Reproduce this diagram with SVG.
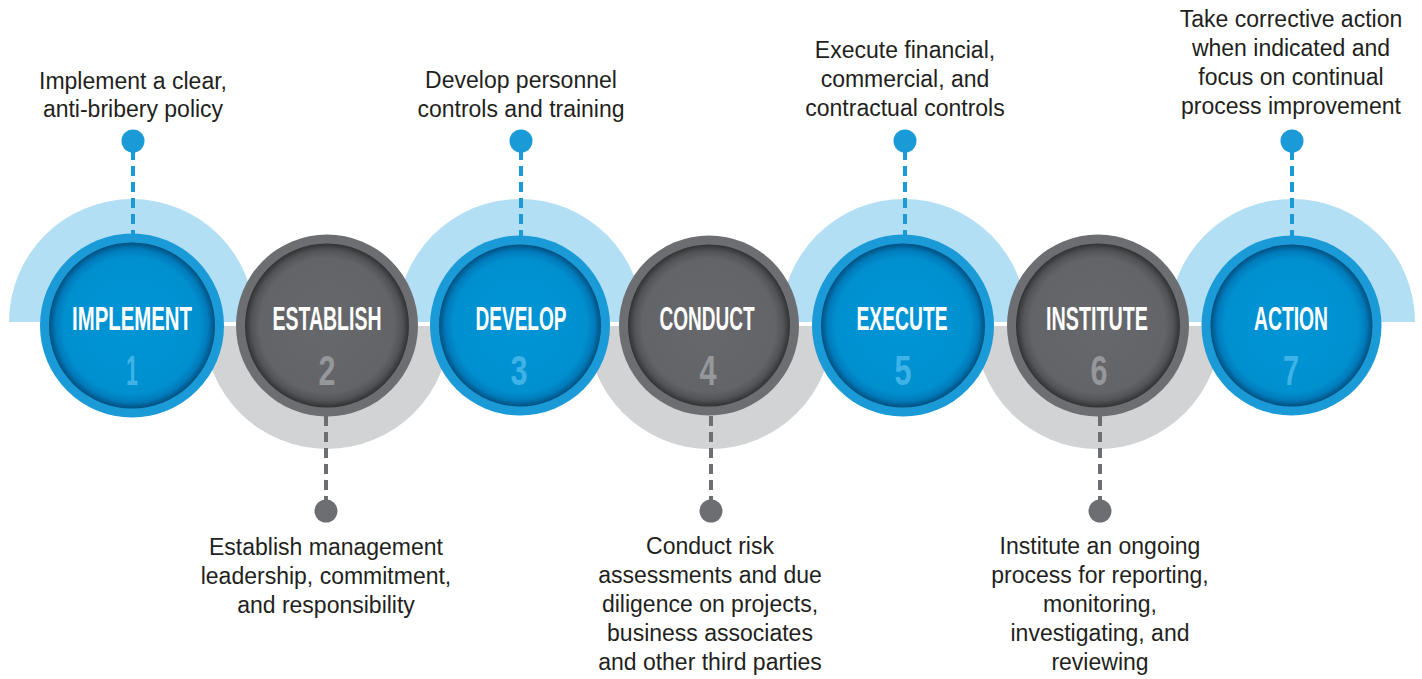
<svg xmlns="http://www.w3.org/2000/svg" width="1422" height="679" viewBox="0 0 1422 679">
<defs>
<radialGradient id="gBlue" cx="0.5" cy="0.5" r="0.5">
<stop offset="0" stop-color="#0095d6"/>
<stop offset="0.82" stop-color="#0090d0"/>
<stop offset="0.92" stop-color="#007bbb"/>
<stop offset="1" stop-color="#00507f"/>
</radialGradient>
<radialGradient id="gGray" cx="0.5" cy="0.5" r="0.5">
<stop offset="0" stop-color="#67686b"/>
<stop offset="0.82" stop-color="#636467"/>
<stop offset="0.92" stop-color="#525356"/>
<stop offset="1" stop-color="#313234"/>
</radialGradient>
</defs>
<style>
.arcB{fill:#b3dff5}
.arcG{fill:#d1d3d4}
.ringB{fill:#1a9ad6}
.ringG{fill:#6d6e71}
.inB{fill:url(#gBlue)}
.inG{fill:url(#gGray)}
.title{font-family:"Liberation Sans",Arial,sans-serif;font-weight:bold;font-size:33px;fill:#ffffff;text-anchor:middle}
.num{font-family:"Liberation Sans",Arial,sans-serif;font-weight:bold;font-size:43px;text-anchor:middle}
.numB{fill:#3fb3e8}
.numG{fill:#95979a}
.lbl{font-family:"Liberation Sans",Arial,sans-serif;font-size:23px;fill:#231f20;text-anchor:middle}
.dashB{stroke:#1a9ad6;stroke-width:4;stroke-dasharray:10 6;fill:none}
.dashG{stroke:#6d6e71;stroke-width:4;stroke-dasharray:10 6;fill:none}
.dotB{fill:#1a9ad6}
.dotG{fill:#6d6e71}
</style>
<rect width="1422" height="679" fill="#ffffff"/>
<g id="backdrops">
<path class="arcB" d="M9,322 A123,123 0 0 1 255,322 Z"/>
<path class="arcB" d="M397,322 A123,123 0 0 1 643,322 Z"/>
<path class="arcB" d="M781,322 A123,123 0 0 1 1027,322 Z"/>
<path class="arcB" d="M1169,322 A123,123 0 0 1 1415,322 Z"/>
<path class="arcG" d="M204,326 A123,123 0 0 0 450,326 Z"/>
<path class="arcG" d="M587,326 A123,123 0 0 0 833,326 Z"/>
<path class="arcG" d="M975,326 A123,123 0 0 0 1221,326 Z"/>
</g>
<g id="connectors">
<line class="dashB" x1="133" y1="150" x2="133" y2="236"/>
<line class="dashB" x1="521" y1="150" x2="521" y2="236"/>
<line class="dashB" x1="905" y1="150" x2="905" y2="236"/>
<line class="dashB" x1="1292" y1="150" x2="1292" y2="236"/>
<line class="dashG" x1="326" y1="416" x2="326" y2="502"/>
<line class="dashG" x1="711" y1="416" x2="711" y2="502"/>
<line class="dashG" x1="1100" y1="416" x2="1100" y2="502"/>
<circle class="dotB" cx="133" cy="141" r="11.5"/>
<circle class="dotB" cx="521" cy="141" r="11.5"/>
<circle class="dotB" cx="905" cy="141" r="11.5"/>
<circle class="dotB" cx="1292" cy="141" r="11.5"/>
<circle class="dotG" cx="326" cy="511" r="11.5"/>
<circle class="dotG" cx="711" cy="511" r="11.5"/>
<circle class="dotG" cx="1100" cy="511" r="11.5"/>
</g>
<g id="node1">
<circle class="ringB" cx="132" cy="325.5" r="92"/>
<circle class="inB" cx="132" cy="325.5" r="83"/>
<text class="title" x="132" y="330" textLength="120" lengthAdjust="spacingAndGlyphs">IMPLEMENT</text>
<text class="num numB" x="132" y="385" textLength="12" lengthAdjust="spacingAndGlyphs">1</text>
<text class="lbl" x="133" y="89">Implement a clear,</text>
<text class="lbl" x="133" y="117">anti-bribery policy</text>
</g>
<g id="node2">
<circle class="ringG" cx="327" cy="325.5" r="91"/>
<circle class="inG" cx="327" cy="325.5" r="82"/>
<text class="title" x="327" y="330" textLength="109" lengthAdjust="spacingAndGlyphs">ESTABLISH</text>
<text class="num numG" x="327" y="385" textLength="17" lengthAdjust="spacingAndGlyphs">2</text>
<text class="lbl" x="326" y="555">Establish management</text>
<text class="lbl" x="326" y="584">leadership, commitment,</text>
<text class="lbl" x="326" y="613">and responsibility</text>
</g>
<g id="node3">
<circle class="ringB" cx="520" cy="325.5" r="90"/>
<circle class="inB" cx="520" cy="325.5" r="81"/>
<text class="title" x="521" y="330" textLength="91" lengthAdjust="spacingAndGlyphs">DEVELOP</text>
<text class="num numB" x="519" y="385" textLength="17" lengthAdjust="spacingAndGlyphs">3</text>
<text class="lbl" x="521" y="88">Develop personnel</text>
<text class="lbl" x="521" y="117">controls and training</text>
</g>
<g id="node4">
<circle class="ringG" cx="709" cy="325.5" r="90"/>
<circle class="inG" cx="709" cy="325.5" r="81"/>
<text class="title" x="707" y="330" textLength="95" lengthAdjust="spacingAndGlyphs">CONDUCT</text>
<text class="num numG" x="708" y="385" textLength="17" lengthAdjust="spacingAndGlyphs">4</text>
<text class="lbl" x="710" y="554">Conduct risk</text>
<text class="lbl" x="710" y="583">assessments and due</text>
<text class="lbl" x="710" y="612">diligence on projects,</text>
<text class="lbl" x="710" y="641">business associates</text>
<text class="lbl" x="710" y="670">and other third parties</text>
</g>
<g id="node5">
<circle class="ringB" cx="903" cy="325.5" r="91"/>
<circle class="inB" cx="903" cy="325.5" r="82"/>
<text class="title" x="902" y="330" textLength="91" lengthAdjust="spacingAndGlyphs">EXECUTE</text>
<text class="num numB" x="903" y="385" textLength="17" lengthAdjust="spacingAndGlyphs">5</text>
<text class="lbl" x="905" y="58">Execute financial,</text>
<text class="lbl" x="905" y="87">commercial, and</text>
<text class="lbl" x="905" y="116">contractual controls</text>
</g>
<g id="node6">
<circle class="ringG" cx="1098" cy="325.5" r="91"/>
<circle class="inG" cx="1098" cy="325.5" r="82"/>
<text class="title" x="1097" y="330" textLength="102" lengthAdjust="spacingAndGlyphs">INSTITUTE</text>
<text class="num numG" x="1099" y="385" textLength="17" lengthAdjust="spacingAndGlyphs">6</text>
<text class="lbl" x="1100" y="554">Institute an ongoing</text>
<text class="lbl" x="1100" y="583">process for reporting,</text>
<text class="lbl" x="1100" y="612">monitoring,</text>
<text class="lbl" x="1100" y="641">investigating, and</text>
<text class="lbl" x="1100" y="670">reviewing</text>
</g>
<g id="node7">
<circle class="ringB" cx="1291.5" cy="325.5" r="90"/>
<circle class="inB" cx="1291.5" cy="325.5" r="81"/>
<text class="title" x="1291" y="330" textLength="74" lengthAdjust="spacingAndGlyphs">ACTION</text>
<text class="num numB" x="1291" y="385" textLength="16" lengthAdjust="spacingAndGlyphs">7</text>
<text class="lbl" x="1291" y="27">Take corrective action</text>
<text class="lbl" x="1291" y="56">when indicated and</text>
<text class="lbl" x="1291" y="85">focus on continual</text>
<text class="lbl" x="1291" y="114">process improvement</text>
</g>
</svg>
